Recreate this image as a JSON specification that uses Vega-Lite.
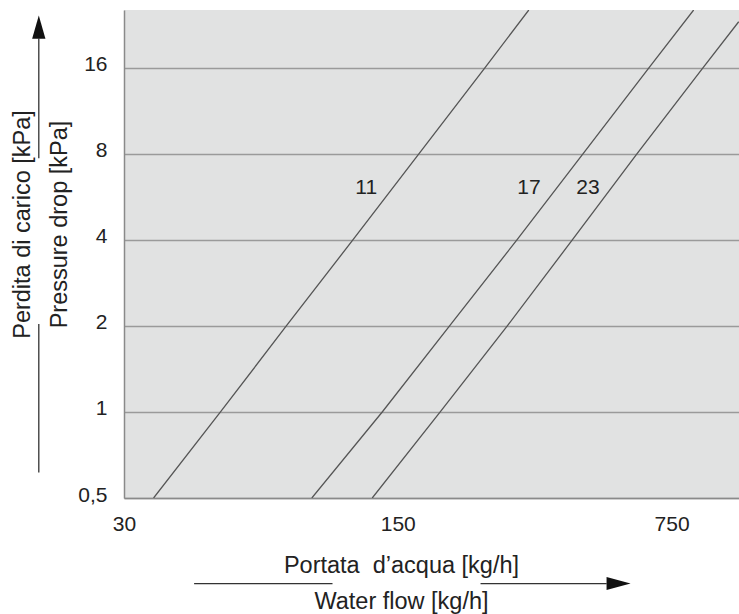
{
  "$schema": "https://vega.github.io/schema/vega-lite/v6.json",
  "autosize": "none",
  "width": 615,
  "height": 488,
  "padding": {"left": 124, "top": 10, "right": 0, "bottom": 116},
  "background": "white",
  "config": {
    "font": "Liberation Sans",
    "view": {"fill": "#e1e2e2", "stroke": null}
  },
  "datasets": {
    "curves": [
      {"series": "11", "flow": 35.7, "dp": 0.5},
      {"series": "11", "flow": 52.9, "dp": 1},
      {"series": "11", "flow": 77.9, "dp": 2},
      {"series": "11", "flow": 115.2, "dp": 4},
      {"series": "11", "flow": 169.8, "dp": 8},
      {"series": "11", "flow": 250.3, "dp": 16},
      {"series": "11", "flow": 324, "dp": 25.5},
      {"series": "17", "flow": 90.5, "dp": 0.5},
      {"series": "17", "flow": 136.9, "dp": 1},
      {"series": "17", "flow": 203.4, "dp": 2},
      {"series": "17", "flow": 302.2, "dp": 4},
      {"series": "17", "flow": 445.5, "dp": 8},
      {"series": "17", "flow": 656.5, "dp": 16},
      {"series": "17", "flow": 854, "dp": 25.5},
      {"series": "23", "flow": 129.1, "dp": 0.5},
      {"series": "23", "flow": 192.5, "dp": 1},
      {"series": "23", "flow": 285.6, "dp": 2},
      {"series": "23", "flow": 418.5, "dp": 4},
      {"series": "23", "flow": 611.8, "dp": 8},
      {"series": "23", "flow": 901.9, "dp": 16},
      {"series": "23", "flow": 1113, "dp": 23.2}
    ],
    "labels": [
      {"series": "11", "flow": 124.6, "dp": 6.06},
      {"series": "17", "flow": 324.4, "dp": 6.06},
      {"series": "23", "flow": 458.8, "dp": 6.06}
    ],
    "arrowLines": [
      {"flow": 18.18, "flow2": 18.18, "dp": 20.25, "dp2": 7.72},
      {"flow": 18.18, "flow2": 18.18, "dp": 2.03, "dp2": 0.614},
      {"flow": 45.3, "flow2": 102.2, "dp": 0.251, "dp2": 0.251},
      {"flow": 244.0, "flow2": 512.1, "dp": 0.251, "dp2": 0.251}
    ],
    "arrowUp": [{"flow": 18.18, "dp": 22.2}],
    "arrowRight": [{"flow": 549.3, "dp": 0.251}]
  },
  "layer": [
    {
      "data": {"name": "curves"},
      "mark": {"type": "line", "color": "#555555", "strokeWidth": 1.3, "clip": true},
      "encoding": {
        "x": {
          "field": "flow", "type": "quantitative",
          "scale": {"type": "log", "domain": [30, 1115], "nice": false, "zero": false},
          "axis": {
            "values": [30, 150, 750],
            "grid": false, "ticks": false,
            "domain": true, "domainColor": "#8a8a8a", "domainWidth": 1.5,
            "labelFontSize": 21, "labelColor": "#222222", "labelPadding": 15,
            "labelFlush": false,
            "title": ["Portata\u00a0 d’acqua [kg/h]", "Water flow [kg/h]"],
            "titleFontSize": 23.5, "titleFontWeight": "normal", "titleColor": "#222222",
            "titleLineHeight": 36,
            "titleX": 277, "titleY": 55, "titleAlign": "center", "titleBaseline": "top"
          }
        },
        "y": {
          "field": "dp", "type": "quantitative",
          "scale": {"type": "log", "domain": [0.5, 25.5], "nice": false, "zero": false},
          "axis": {
            "values": [0.5, 1, 2, 4, 8, 16],
            "labelExpr": "datum.value == 0.5 ? '0,5' : datum.label",
            "grid": true, "gridColor": "#9a9a9a", "gridWidth": 1.5,
            "ticks": false,
            "domain": true, "domainColor": "#8a8a8a", "domainWidth": 1.5,
            "labelFontSize": 21, "labelColor": "#222222", "labelPadding": 17,
            "labelOffset": -3, "labelFlush": false,
            "title": ["Perdita di carico [kPa]", "Pressure drop [kPa]"],
            "titleFontSize": 23.5, "titleFontWeight": "normal", "titleColor": "#222222",
            "titleLineHeight": 37, "titleAngle": -90,
            "titleX": -90, "titleY": 214, "titleAlign": "center", "titleBaseline": "bottom"
          }
        },
        "detail": {"field": "series"}
      }
    },
    {
      "data": {"name": "labels"},
      "mark": {"type": "text", "fontSize": 21, "color": "#222222", "align": "center", "baseline": "middle"},
      "encoding": {
        "x": {"field": "flow", "type": "quantitative"},
        "y": {"field": "dp", "type": "quantitative"},
        "text": {"field": "series"}
      }
    },
    {
      "data": {"name": "arrowLines"},
      "mark": {"type": "rule", "color": "#333333", "strokeWidth": 1.3, "clip": false},
      "encoding": {
        "x": {"field": "flow", "type": "quantitative"},
        "x2": {"field": "flow2"},
        "y": {"field": "dp", "type": "quantitative"},
        "y2": {"field": "dp2"}
      }
    },
    {
      "data": {"name": "arrowUp"},
      "mark": {"type": "point", "shape": "M -0.57 1 L 0 -1 L 0.57 1 Z", "filled": true, "color": "#111111", "opacity": 1, "size": 545, "clip": false},
      "encoding": {
        "x": {"field": "flow", "type": "quantitative"},
        "y": {"field": "dp", "type": "quantitative"}
      }
    },
    {
      "data": {"name": "arrowRight"},
      "mark": {"type": "point", "shape": "M -1 -0.54 L 1 0 L -1 0.54 Z", "filled": true, "color": "#111111", "opacity": 1, "size": 576, "clip": false},
      "encoding": {
        "x": {"field": "flow", "type": "quantitative"},
        "y": {"field": "dp", "type": "quantitative"}
      }
    }
  ]
}
